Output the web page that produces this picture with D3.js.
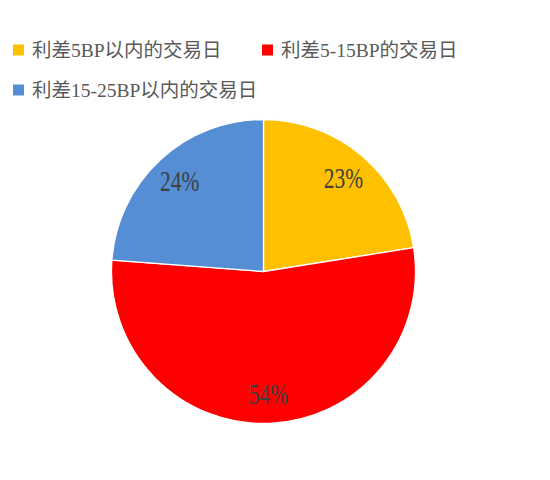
<!DOCTYPE html>
<html>
<head>
<meta charset="utf-8">
<script src="https://cdn.jsdelivr.net/npm/d3@7"></script>
<style>
  html, body { margin: 0; padding: 0; background: #fff; }
  svg { display: block; }
</style>
</head>
<body>
<svg id="chart" width="550" height="480"></svg>
<script>
const categories = ["利差5BP以内的交易日", "利差5-15BP的交易日", "利差15-25BP以内的交易日"];
const values = [22.5, 53.7, 23.8];
const labels = ["23%", "54%", "24%"];
const colors = ["#FFC000", "#FF0000", "#558ED5"];

const svg = d3.select("#chart");
const W = 550, H = 480;
const cx = 263.5, cy = 271.5, R = 152;

const pie = d3.pie().sort(null).value(d => d)(values);
const arc = d3.arc().innerRadius(0).outerRadius(R);
const labelArc = d3.arc().innerRadius(R * 0.81).outerRadius(R * 0.81);

const g = svg.append("g").attr("transform", `translate(${cx},${cy})`);
g.selectAll("path.slice").data(pie).join("path")
  .attr("class", "slice")
  .attr("d", arc)
  .attr("fill", (d, i) => colors[i])
  .attr("stroke", "#fff")
  .attr("stroke-width", 1.3)
  .attr("stroke-linejoin", "round");

g.selectAll("text.lbl").data(pie).join("text")
  .attr("class", "lbl")
  .attr("transform", d => { const c = labelArc.centroid(d); return `translate(${c[0]},${c[1]})`; })
  .attr("text-anchor", "middle")
  .attr("dy", "0.34em")
  .attr("font-family", "'Liberation Serif', 'DejaVu Serif', serif")
  .attr("font-size", 29)
  .attr("fill", "#404040")
  .text((d, i) => labels[i])
  .each(function() {
    const t = d3.select(this);
    const w = this.getComputedTextLength();
    t.attr("textLength", w * 0.74).attr("lengthAdjust", "spacingAndGlyphs");
  });

// Legend
const legendItems = [
  {i: 0, x: 13, y: 50},
  {i: 1, x: 262, y: 50},
  {i: 2, x: 13, y: 90}
];
const lg = svg.append("g");
legendItems.forEach(it => {
  lg.append("rect")
    .attr("x", it.x).attr("y", it.y - 5.5)
    .attr("width", 11).attr("height", 11)
    .attr("fill", colors[it.i]);
  lg.append("text")
    .attr("x", it.x + 19).attr("y", it.y)
    .attr("dy", "0.36em")
    .attr("font-family", "'Liberation Serif', 'Noto Sans CJK SC', sans-serif")
    .attr("font-size", 19.5)
    .attr("fill", "#595959")
    .text(categories[it.i]);
});
</script>
</body>
</html>
